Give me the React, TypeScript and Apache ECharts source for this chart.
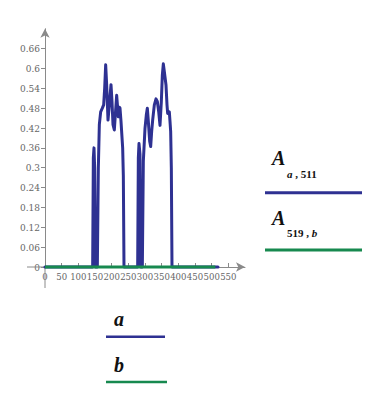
import React, { useEffect, useRef } from "react";
import * as echarts from "echarts";

// Series A(a, 511): column a (x index) vs value
const blueX = [0, 143, 145, 147, 149, 151, 157, 160, 163, 167, 172, 176, 179, 182, 185, 189, 193, 198, 201, 204, 208, 211, 215, 218, 220, 223, 225, 228, 233, 235, 237, 278, 280, 282, 285, 287, 292, 295, 300, 304, 307, 310, 314, 317, 320, 323, 328, 333, 337, 341, 345, 349, 352, 355, 358, 363, 366, 368, 371, 373, 375, 377, 379, 381, 519];
const blueY = [0, 0, 0.33, 0.36, 0.3, 0, 0, 0.3, 0.43, 0.469, 0.48, 0.49, 0.54, 0.611, 0.55, 0.444, 0.49, 0.551, 0.5, 0.43, 0.414, 0.46, 0.519, 0.48, 0.454, 0.483, 0.48, 0.44, 0.36, 0.277, 0, 0, 0.33, 0.373, 0.34, 0, 0, 0.32, 0.419, 0.46, 0.48, 0.44, 0.38, 0.364, 0.41, 0.444, 0.49, 0.508, 0.5, 0.47, 0.428, 0.5, 0.58, 0.614, 0.59, 0.55, 0.49, 0.464, 0.464, 0.469, 0.44, 0.41, 0.3, 0, 0];

// Series A(519, b): row 519 vs b
const greenX = [0, 511];
const greenY = [0, 0];

const xTicks = [0, 50, 100, 150, 200, 250, 300, 350, 400, 450, 500, 550];
const yTicks = [0, 0.06, 0.12, 0.18, 0.24, 0.3, 0.36, 0.42, 0.48, 0.54, 0.6, 0.66];

const BLUE = "#2e3192";
const GREEN = "#17894f";
const AXIS = "#8a8a8a";
const LABEL = "#666666";
const SERIF = "'Liberation Serif', 'DejaVu Serif', serif";
const TICKFONT = "'DejaVu Serif Condensed', 'DejaVu Serif', serif";

export default function App() {
  const ref = useRef<HTMLDivElement>(null);

  useEffect(() => {
    if (!ref.current) return;
    const chart = echarts.init(ref.current, null, { renderer: "svg" });
    const blueData = blueX.map((x, i) => [x, blueY[i]]);
    const greenData = greenX.map((x, i) => [x, greenY[i]]);

    const legendText = (x: number, y: number, text: string, size: number) => ({
      type: "text",
      x,
      y,
      style: {
        text,
        fill: "#111",
        font: `italic bold ${size}px ${SERIF}`,
        align: "left",
        verticalAlign: "middle",
      },
    });

    const subText = (x: number, y: number, text: string) => ({
      type: "text",
      x,
      y,
      style: {
        rich: {
          i: { font: `italic bold 11px ${SERIF}`, fill: "#111" },
          n: { font: `bold 11px ${SERIF}`, fill: "#111" },
        },
        text,
        align: "left",
        verticalAlign: "middle",
      },
    });

    chart.setOption({
      animation: false,
      backgroundColor: "#ffffff",
      grid: {
        left: 45,
        top: 28.75,
        width: 200,
        height: 238.25,
        containLabel: false,
        outerBoundsMode: "none",
      },
      xAxis: {
        type: "value",
        min: 0,
        max: 600,
        splitLine: { show: false },
        axisLine: {
          show: true,
          onZero: false,
          symbol: ["none", "arrow"],
          symbolSize: [7, 9],
          lineStyle: { color: AXIS, width: 1 },
        },
        axisTick: {
          show: true,
          inside: true,
          length: 4,
          customValues: xTicks,
          lineStyle: { color: AXIS },
        },
        axisLabel: {
          show: true,
          customValues: xTicks,
          margin: 4,
          color: LABEL,
          fontFamily: TICKFONT,
          fontSize: 9.5,
          hideOverlap: false,
          showMinLabel: true,
          showMaxLabel: true,
          formatter: (v: number) => String(v),
        },
      },
      yAxis: {
        type: "value",
        min: 0,
        max: 0.72,
        splitLine: { show: false },
        axisLine: {
          show: true,
          onZero: false,
          symbol: ["none", "arrow"],
          symbolSize: [7, 9],
          lineStyle: { color: AXIS, width: 1 },
        },
        axisTick: {
          show: true,
          inside: false,
          length: 4,
          customValues: yTicks,
          lineStyle: { color: AXIS },
        },
        axisLabel: {
          show: true,
          customValues: yTicks,
          margin: 5,
          color: LABEL,
          fontFamily: TICKFONT,
          fontSize: 10,
          showMinLabel: true,
          showMaxLabel: true,
          formatter: (v: number) => String(v),
        },
      },
      series: [
        {
          type: "line",
          data: blueData,
          showSymbol: false,
          clip: false,
          lineStyle: { color: BLUE, width: 3, join: "round", cap: "round" },
          z: 2,
        },
        {
          type: "line",
          data: greenData,
          showSymbol: false,
          clip: false,
          lineStyle: { color: GREEN, width: 3 },
          z: 3,
        },
      ],
    });

    const origin = chart.convertToPixel({ gridIndex: 0 }, [0, 0]) as number[];
    const ox = origin[0];
    const oy = origin[1];

    chart.setOption({
      graphic: [
        // axis extensions beyond the origin
        { type: "line", z: 1, shape: { x1: ox - 18, y1: oy, x2: ox, y2: oy }, style: { stroke: AXIS, lineWidth: 1 } },
        { type: "line", z: 1, shape: { x1: ox, y1: oy, x2: ox, y2: oy + 21 }, style: { stroke: AXIS, lineWidth: 1 } },
        legendText(272, 158.3, "A", 20),
        subText(287, 173.9, "{i|a}{n| , 511}"),
        { type: "line", shape: { x1: 265, y1: 192.7, x2: 362, y2: 192.7 }, style: { stroke: BLUE, lineWidth: 3 } },
        legendText(272, 218.3, "A", 20),
        subText(287, 233.3, "{n|519 , }{i|b}"),
        { type: "line", shape: { x1: 265, y1: 250, x2: 362, y2: 250 }, style: { stroke: GREEN, lineWidth: 3 } },
        legendText(114, 319.3, "a", 20),
        { type: "line", shape: { x1: 106, y1: 336.7, x2: 165, y2: 336.7 }, style: { stroke: BLUE, lineWidth: 2.5 } },
        legendText(114, 365, "b", 20),
        { type: "line", shape: { x1: 106, y1: 382, x2: 167, y2: 382 }, style: { stroke: GREEN, lineWidth: 2.5 } },
      ],
    });
    return () => chart.dispose();
  }, []);

  return (
    <div
      ref={ref}
      style={{ position: "absolute", left: 0, top: 0, width: 381, height: 397 }}
    />
  );
}
